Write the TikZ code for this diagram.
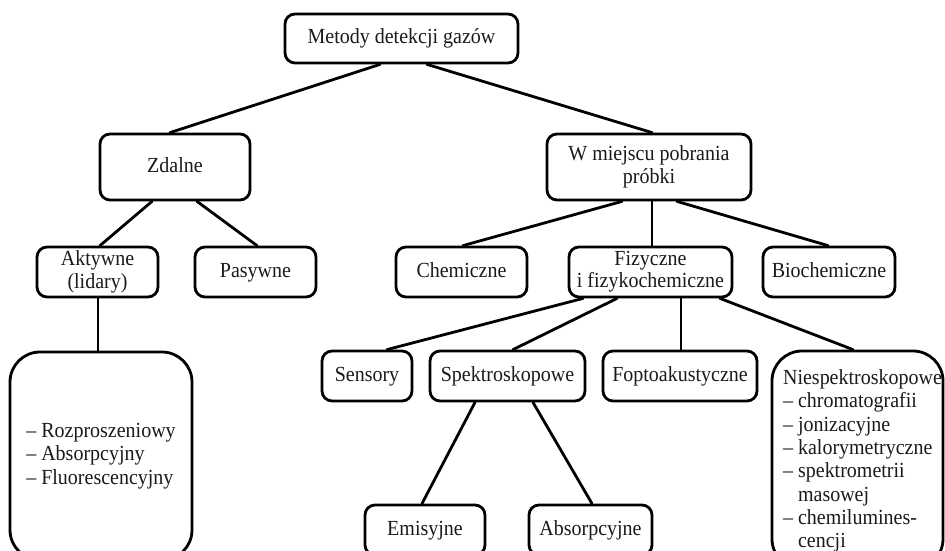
\documentclass[tikz,border=0pt]{standalone}
\usepackage{fontspec}
\setmainfont{Liberation Serif}[FakeStretch=0.93]
\definecolor{txt}{HTML}{1A1A1A}
\begin{document}
\begin{tikzpicture}[x=1pt,y=-1pt,
  every node/.style={font=\fontsize{21.5}{23.3}\selectfont, text=txt},
  box/.style={draw=black, line width=2.8pt, rounded corners=10pt, inner sep=0pt, align=center},
  one/.style={text height=15pt, text depth=4pt},
  bigbox/.style={box, rounded corners=30pt, align=left},
  conn/.style={line width=2.8pt, line cap=round}]
\useasboundingbox (0,0) rectangle (945,551);
\fill[white] (0,0) rectangle (945,551);
% level 0
\node[box, one, minimum width=233pt, minimum height=49pt] (root) at (401.5,38.5) {Metody detekcji gazów};
% level 1
\node[box, one, minimum width=150pt, minimum height=66pt] (zdalne) at (175,167) {Zdalne};
\node[box, minimum width=204pt, minimum height=66pt] (wm) at (649,167) {W miejscu pobrania\\próbki};
% level 2
\node[box, minimum width=121pt, minimum height=50pt] (akt) at (97.5,272) {Aktywne\\(lidary)};
\node[box, one, minimum width=121pt, minimum height=50pt] (pas) at (255.5,272) {Pasywne};
\node[box, one, minimum width=131pt, minimum height=50pt] (chem) at (461.5,272) {Chemiczne};
\node[box, minimum width=163pt, minimum height=50pt, font=\fontsize{21.5}{22}\selectfont] (fiz) at (650.5,272) {Fizyczne\\i fizykochemiczne};
\node[box, one, minimum width=132pt, minimum height=50pt] (bio) at (829,272) {Biochemiczne};
% level 3
\node[bigbox, minimum width=182pt, minimum height=208pt] (lid) at (101,456) {– Rozproszeniowy\\– Absorpcyjny\\– Fluorescencyjny};
\node[box, one, minimum width=90pt, minimum height=50pt] (sens) at (367,376) {Sensory};
\node[box, one, minimum width=155pt, minimum height=50pt] (spek) at (507.5,376) {Spektroskopowe};
\node[box, one, minimum width=154pt, minimum height=50pt] (fopto) at (680,376) {Foptoakustyczne};
\node[bigbox, minimum width=171pt, minimum height=218pt] (nies) at (857.5,460) {};
\node[align=left, inner sep=0pt] (niestext) at ([xshift=5pt,yshift=-1pt]nies.center) {Niespektroskopowe\\– chromatografii\\– jonizacyjne\\– kalorymetryczne\\– spektrometrii\\\phantom{– }masowej\\– chemilumines-\\\phantom{– }cencji};
% level 4
\node[box, one, minimum width=120pt, minimum height=50pt] (emis) at (425,530) {Emisyjne};
\node[box, one, minimum width=123pt, minimum height=50pt] (abs) at (590.5,530) {Absorpcyjne};
% connectors
\draw[conn] ([xshift=-21.5pt]root.south) -- ([xshift=-5pt]zdalne.north);
\draw[conn] ([xshift=25.5pt]root.south) -- ([xshift=3pt]wm.north);
\draw[conn] ([xshift=-23pt]zdalne.south) -- ([xshift=2.5pt]akt.north);
\draw[conn] ([xshift=22pt]zdalne.south) -- ([xshift=1.5pt]pas.north);
\draw[conn] ([xshift=0.5pt]akt.south) -- ([xshift=-3pt]lid.north);
\draw[conn] ([xshift=-27pt]wm.south) -- ([xshift=1.5pt]chem.north);
\draw[conn] ([xshift=3pt]wm.south) -- ([xshift=1.5pt]fiz.north);
\draw[conn] ([xshift=28pt]wm.south) -- ([xshift=-1pt]bio.north);
\draw[conn] ([xshift=-67.5pt]fiz.south) -- ([xshift=20pt]sens.north);
\draw[conn] ([xshift=-33.5pt]fiz.south) -- ([xshift=5.5pt]spek.north);
\draw[conn] ([xshift=30.5pt]fiz.south) -- ([xshift=1pt]fopto.north);
\draw[conn] ([xshift=69.5pt]fiz.south) -- ([xshift=-4.5pt]nies.north);
\draw[conn] ([xshift=-32.5pt]spek.south) -- ([xshift=-3pt]emis.north);
\draw[conn] ([xshift=25.5pt]spek.south) -- ([xshift=1.5pt]abs.north);
\end{tikzpicture}
\end{document}
